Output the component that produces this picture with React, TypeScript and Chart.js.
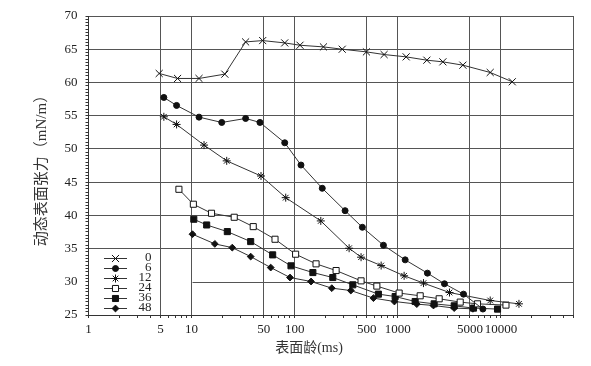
import React, { useEffect, useRef } from 'react';
import { Chart, registerables } from 'chart.js';
import { drawPoint } from 'chart.js/helpers';

Chart.register(...registerables);

// ---- Data (surface age in ms, dynamic surface tension in mN/m) ----
const seriesLabels = ['0', '6', '12', '24', '36', '48'];

const t0 = [4.85, 7.31, 11.8, 21.0, 33.4, 48.9, 80, 112.5, 190, 289, 496, 736, 1205, 1913, 2735, 4276, 7870, 12880];
const v0 = [61.35, 60.6, 60.6, 61.25, 66.1, 66.3, 65.95, 65.6, 65.35, 65.0, 64.6, 64.2, 63.85, 63.35, 63.1, 62.6, 61.5, 60.1];

const t6 = [5.38, 7.15, 11.8, 19.6, 33.4, 46.0, 80, 115, 185, 308, 453, 725, 1178, 1937, 2833, 4335, 6680];
const v6 = [57.74, 56.54, 54.78, 53.98, 54.58, 53.98, 50.92, 47.57, 44.07, 40.7, 38.2, 35.5, 33.3, 31.3, 29.7, 28.14, 25.9];

const t12 = [5.38, 7.15, 13.2, 21.9, 47.1, 81.8, 179, 337, 440, 689, 1151, 1774, 3170, 7870, 14960];
const v12 = [54.83, 53.68, 50.57, 48.2, 45.92, 42.66, 39.16, 35.05, 33.7, 32.44, 30.9, 29.8, 28.38, 27.18, 26.68];

const t24 = [7.53, 10.4, 15.6, 25.9, 39.6, 64.4, 102, 161, 252, 440, 626, 1030, 1648, 2518, 4027, 5930, 11190];
const v24 = [43.92, 41.67, 40.31, 39.71, 38.3, 36.4, 34.15, 32.7, 31.69, 30.14, 29.35, 28.3, 27.89, 27.44, 26.94, 26.68, 26.49];

const t36 = [10.5, 14.0, 22.2, 37.4, 61.1, 92, 150, 234, 366, 648, 942, 1472, 2250, 3522, 5420, 9270];
const v36 = [39.41, 38.55, 37.55, 36.05, 34.05, 32.4, 31.39, 30.64, 29.54, 28.14, 27.78, 27.03, 26.68, 26.38, 26.04, 25.89];

const t48 = [10.2, 16.8, 24.8, 37.4, 58.5, 90, 144, 229, 350, 580, 927, 1528, 2218, 3522, 5350];
const v48 = [37.16, 35.7, 35.14, 33.79, 32.14, 30.64, 30.04, 29.04, 28.68, 27.54, 27.03, 26.64, 26.43, 26.04, 25.93];

const seriesT = [t0, t6, t12, t24, t36, t48];
const seriesV = [v0, v6, v12, v24, v36, v48];

// ---- Axis ticks ----
const xTickValues: number[] = [];
for (const d of [1, 10, 100, 1000]) for (let k = 1; k <= 9; k++) xTickValues.push(d * k);
xTickValues.push(10000, 20000, 30000, 40000, 50000);
const xLabelValues = [1, 5, 10, 50, 100, 500, 1000, 5000, 10000];
const xGridValues = [5, 10, 50, 100, 500, 1000, 5000, 10000, 50000];

const yTickValues: number[] = [];
for (let i = 50; i <= 140; i++) yTickValues.push(i / 2);
const yLabelValues = [25, 30, 35, 40, 45, 50, 55, 60, 65, 70];
const yGridValues = [25, 35, 40, 45, 50, 55, 60, 65, 70];

const xTitle = '表面龄(ms)';
const yTitle = '动态表面张力（mN/m）';

const FONT = "'Liberation Serif', 'Noto Sans CJK SC', serif";

const markerStyles = [
  { pointStyle: 'crossRot', radius: 5, bg: '#111' },
  { pointStyle: 'circle', radius: 3, bg: '#111' },
  { pointStyle: 'star', radius: 4, bg: '#111' },
  { pointStyle: 'rect', radius: 4.3, bg: '#fff' },
  { pointStyle: 'rect', radius: 4.3, bg: '#111' },
  { pointStyle: 'rectRot', radius: 3.4, bg: '#111' },
];

const overlayPlugin = {
  id: 'overlay',
  beforeDatasetsDraw(chart: any) {
    const { ctx, scales, chartArea } = chart;
    const py = Math.round(scales.y.getPixelForValue(30)) + 0.5;
    ctx.save();
    ctx.strokeStyle = '#555';
    ctx.lineWidth = 1;
    ctx.beginPath();
    ctx.moveTo(Math.round(scales.x.getPixelForValue(10)) + 0.5, py);
    ctx.lineTo(chartArea.right, py);
    ctx.stroke();
    ctx.restore();
  },
  afterDraw(chart: any) {
    const { ctx } = chart;
    ctx.save();
    // legend
    const rowY = [258, 268, 278, 288, 298, 308];
    seriesLabels.forEach((lab, i) => {
      const y = rowY[i];
      ctx.strokeStyle = '#333';
      ctx.lineWidth = 1;
      ctx.beginPath();
      ctx.moveTo(104, y + 0.5);
      ctx.lineTo(127, y + 0.5);
      ctx.stroke();
      const st = markerStyles[i];
      ctx.fillStyle = st.bg;
      ctx.strokeStyle = '#111';
      ctx.lineWidth = 1;
      drawPoint(ctx, { pointStyle: st.pointStyle, radius: st.radius, rotation: 0, borderWidth: 1 } as any, 115.5, y + 0.5);
      ctx.fillStyle = '#222';
      ctx.font = `13px ${FONT}`;
      ctx.textAlign = 'right';
      ctx.textBaseline = 'middle';
      ctx.fillText(lab, 151.5, y);
    });
    // axis titles
    ctx.fillStyle = '#333';
    ctx.font = `14px ${FONT}`;
    ctx.textAlign = 'center';
    ctx.textBaseline = 'middle';
    ctx.fillText(xTitle, 309, 348);
    ctx.font = `15px ${FONT}`;
    ctx.translate(42, 167);
    ctx.rotate(-Math.PI / 2);
    ctx.fillText(yTitle, 0, 0);
    ctx.restore();
  },
};

export default function App() {
  const ref = useRef<HTMLCanvasElement | null>(null);
  useEffect(() => {
    if (!ref.current) return;
    const datasets = seriesLabels.map((lab, i) => ({
      label: lab,
      data: seriesT[i].map((x, j) => ({ x, y: seriesV[i][j] })),
      borderColor: '#333',
      borderWidth: 1,
      pointStyle: markerStyles[i].pointStyle,
      pointRadius: markerStyles[i].radius,
      pointBackgroundColor: markerStyles[i].bg,
      pointBorderColor: '#111',
      pointBorderWidth: 1,
      tension: 0,
      fill: false,
    }));
    const chart = new Chart(ref.current, {
      type: 'line',
      data: { datasets } as any,
      options: {
        animation: false,
        responsive: false,
        layout: { padding: { top: 16, right: 18, left: 0, bottom: 0 } },
        plugins: { legend: { display: false }, tooltip: { enabled: false } },
        scales: {
          x: {
            type: 'logarithmic',
            min: 1,
            max: 50000,
            afterBuildTicks: (scale: any) => {
              scale.ticks = xTickValues.map((v) => ({ value: v }));
            },
            afterFit: (scale: any) => {
              scale.height = 51;
            },
            ticks: {
              autoSkip: false,
              maxRotation: 0,
              minRotation: 0,
              padding: 4,
              color: '#222',
              font: { family: FONT, size: 13 },
              callback: (v: any) => (xLabelValues.includes(Number(v)) ? String(v) : ''),
            },
            grid: {
              color: (c: any) => (c.tick && xGridValues.includes(c.tick.value) ? '#555' : 'rgba(0,0,0,0)'),
              tickColor: '#333',
              tickLength: 3,
              lineWidth: 1,
            },
            border: { color: '#333', width: 1 },
          },
          y: {
            type: 'linear',
            min: 25,
            max: 70,
            afterBuildTicks: (scale: any) => {
              scale.ticks = yTickValues.map((v) => ({ value: v }));
            },
            afterFit: (scale: any) => {
              scale.width = 88.5;
            },
            ticks: {
              autoSkip: false,
              padding: 8,
              color: '#222',
              font: { family: FONT, size: 13 },
              callback: (v: any) => (yLabelValues.includes(Number(v)) ? String(v) : ''),
            },
            grid: {
              color: (c: any) => (c.tick && yGridValues.includes(c.tick.value) ? '#555' : 'rgba(0,0,0,0)'),
              tickColor: '#333',
              tickLength: 3,
              lineWidth: 1,
            },
            border: { color: '#333', width: 1 },
          },
        },
      } as any,
      plugins: [overlayPlugin],
    });
    return () => chart.destroy();
  }, []);
  return (
    <div style={{ position: 'fixed', left: 0, top: 0, width: 591, height: 366, background: '#fff' }}>
      <canvas ref={ref} width={591} height={366} />
    </div>
  );
}
